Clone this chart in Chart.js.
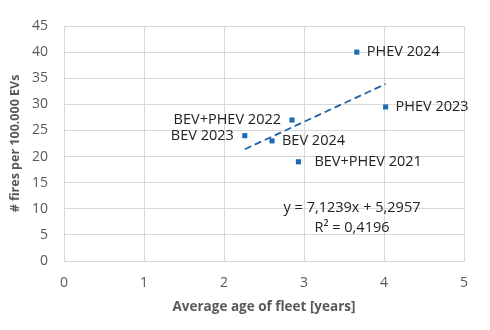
<!DOCTYPE html>
<html>
<head>
<meta charset="utf-8">
<script src="https://cdn.jsdelivr.net/npm/chart.js@4/dist/chart.umd.min.js"></script>
<style>
  html, body { margin: 0; padding: 0; background: #fff; }
</style>
</head>
<body>
<canvas id="chart" width="490" height="330"></canvas>
<script>
// values
const labels = ["PHEV 2024", "PHEV 2023", "BEV+PHEV 2022", "BEV 2023", "BEV 2024", "BEV+PHEV 2021"];
const ages = [3.66, 4.02, 2.85, 2.26, 2.60, 2.93];
const fires = [40, 29.5, 27, 24, 23, 19];
const labelSide = ["right", "right", "left", "left", "right", "right"];
const trendX = [2.26, 4.02];
const trendY = [21.4, 33.9];
const equation = ["y = 7,1239x + 5,2957", "R² = 0,4196"];

const blue = "#1A6BB3";
const grey = "#595959";
const font = "'Open Sans', 'Noto Sans', sans-serif";

const pointLabels = {
    id: "pointLabels",
    afterDatasetsDraw(chart) {
        const ctx = chart.ctx;
        const meta = chart.getDatasetMeta(0);
        ctx.save();
        ctx.font = "14.5px " + font;
        ctx.fillStyle = "#222";
        ctx.textBaseline = "middle";
        meta.data.forEach((pt, i) => {
            if (labelSide[i] === "left") {
                ctx.textAlign = "right";
                ctx.fillText(labels[i], pt.x - 11, pt.y);
            } else {
                ctx.textAlign = "left";
                ctx.fillText(labels[i], pt.x + (i === 5 ? 16 : 10), pt.y);
            }
        });
        // trendline equation
        const xs = chart.scales.x, ys = chart.scales.y;
        ctx.textAlign = "center";
        ctx.font = "14.5px " + font;
        ctx.fillText(equation[0], xs.getPixelForValue(3.6), ys.getPixelForValue(10.2));
        ctx.fillText(equation[1], xs.getPixelForValue(3.6), ys.getPixelForValue(6.3));
        ctx.restore();
    }
};

new Chart(document.getElementById("chart"), {
    type: "scatter",
    data: {
        datasets: [
            {
                data: ages.map((x, i) => ({ x: x, y: fires[i] })),
                pointStyle: "rect",
                pointRadius: 3.6,
                pointBorderWidth: 0,
                backgroundColor: blue,
                borderColor: blue
            },
            {
                type: "line",
                data: trendX.map((x, i) => ({ x: x, y: trendY[i] })),
                borderColor: "#1F63A6",
                borderWidth: 1.8,
                borderDash: [7, 4],
                pointRadius: 0,
                fill: false
            }
        ]
    },
    options: {
        responsive: false,
        animation: false,
        layout: { padding: { left: 0, top: 26, right: 26, bottom: 0 } },
        plugins: {
            legend: { display: false },
            tooltip: { enabled: false }
        },
        scales: {
            x: {
                type: "linear",
                min: 0,
                max: 5,
                ticks: { stepSize: 1, color: grey, padding: 14, font: { family: font, size: 14 } },
                grid: { color: "#D9D9D9", drawTicks: false },
                border: { color: "#D9D9D9" },
                title: {
                    display: true,
                    text: "Average age of fleet [years]",
                    color: grey,
                    font: { family: font, size: 13.5, weight: "bold" },
                    padding: { top: 0, bottom: 15 }
                },
                afterFit: (scale) => { scale.height = 69; }
            },
            y: {
                min: 0,
                max: 45,
                ticks: { stepSize: 5, color: grey, padding: 16, font: { family: font, size: 14 } },
                grid: { color: "#D9D9D9", drawTicks: false },
                border: { color: "#D9D9D9" },
                title: {
                    display: true,
                    text: "# fires per 100.000 EVs",
                    color: grey,
                    font: { family: font, size: 12.5, weight: "bold" },
                    padding: { top: 8, bottom: 0 }
                },
                afterFit: (scale) => { scale.width = 64; }
            }
        }
    },
    plugins: [pointLabels]
});
</script>
</body>
</html>
